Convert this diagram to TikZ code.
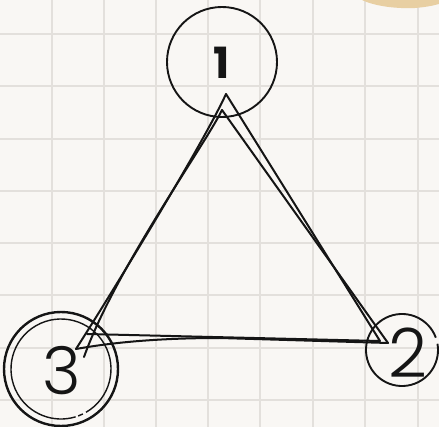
\documentclass[tikz,border=0pt]{standalone}
\usepackage{fontspec}
\setmainfont{Poppins}
\newfontfamily\lightf{Poppins Light}
\newfontfamily\semif{Poppins Bold}
\definecolor{paper}{HTML}{F9F7F4}
\definecolor{gridc}{HTML}{E3E0DC}
\definecolor{inkc}{HTML}{151515}
\definecolor{blobc}{HTML}{E8CFA2}
\begin{document}
\begin{tikzpicture}[x=1pt,y=-1pt,
  ink/.style={draw=inkc, line width=2pt, line join=round, line cap=round},
  gridline/.style={draw=gridc, line width=1.3pt},
  ring/.style={circle, draw=inkc, line width=1.9pt, inner sep=0pt}]
\fill[paper] (0,0) rectangle (439,427);
\useasboundingbox (0,0) rectangle (439,427);
% grid
\foreach \gx in {52,104,156,208,260,313,365,418} \draw[gridline] (\gx,0) -- (\gx,427);
\foreach \gy in {34,86,139,191,243,295,348,400} \draw[gridline] (0,\gy) -- (439,\gy);
% blob top right
\fill[blobc] (362,0) .. controls (372,5) and (392,9) .. (415,8) .. controls (428,7) and (435,5) .. (439,4) -- (439,0) -- cycle;
% circles
\node[ring, minimum size=110pt] (c1) at (222,62) {};
\node[font=\semif\fontsize{43}{43}\selectfont, text=inkc] (l1) at (222,63) {1};
\node[ring, minimum size=114pt, line width=2.4pt] (c3) at (61,369) {};
\draw[inkc, line width=1.4pt] (61,369) ++(-60:50pt) arc[start angle=-60, end angle=287, radius=50pt];
\draw[inkc, line width=1.4pt] (61,369) ++(-70:50pt) arc[start angle=-70, end angle=-64, radius=50pt];
\node[font=\lightf\fontsize{66}{66}\selectfont, text=inkc] (l3) at (62,371) {3};
\coordinate (c2) at (402,350);
\draw[inkc, line width=1.9pt] (c2) ++(20:36pt) arc[start angle=20, end angle=370, radius=36pt];
\node[font=\lightf\fontsize{68}{68}\selectfont, text=inkc] (l2) at (408,353) {2};
% triangle sketch
\coordinate (a1) at (226,94);
\coordinate (a2) at (222,110);
\coordinate (r1) at (380,341);
\coordinate (r2) at (388,343);
\coordinate (b1) at (76,349);
\coordinate (b2) at (84,357);
\coordinate (u1) at (87,334);
\draw[ink] (b2) .. controls (115,270) and (205,145) .. (a2);
\draw[ink] (a2) -- (r2);
\draw[ink] (r2) -- (220,338) .. controls (170,338) and (120,341) .. (b1);
\draw[ink] (b1) .. controls (120,280) and (205,140) .. (a1);
\draw[ink] (a1) -- (r1) -- (u1);
\end{tikzpicture}
\end{document}
